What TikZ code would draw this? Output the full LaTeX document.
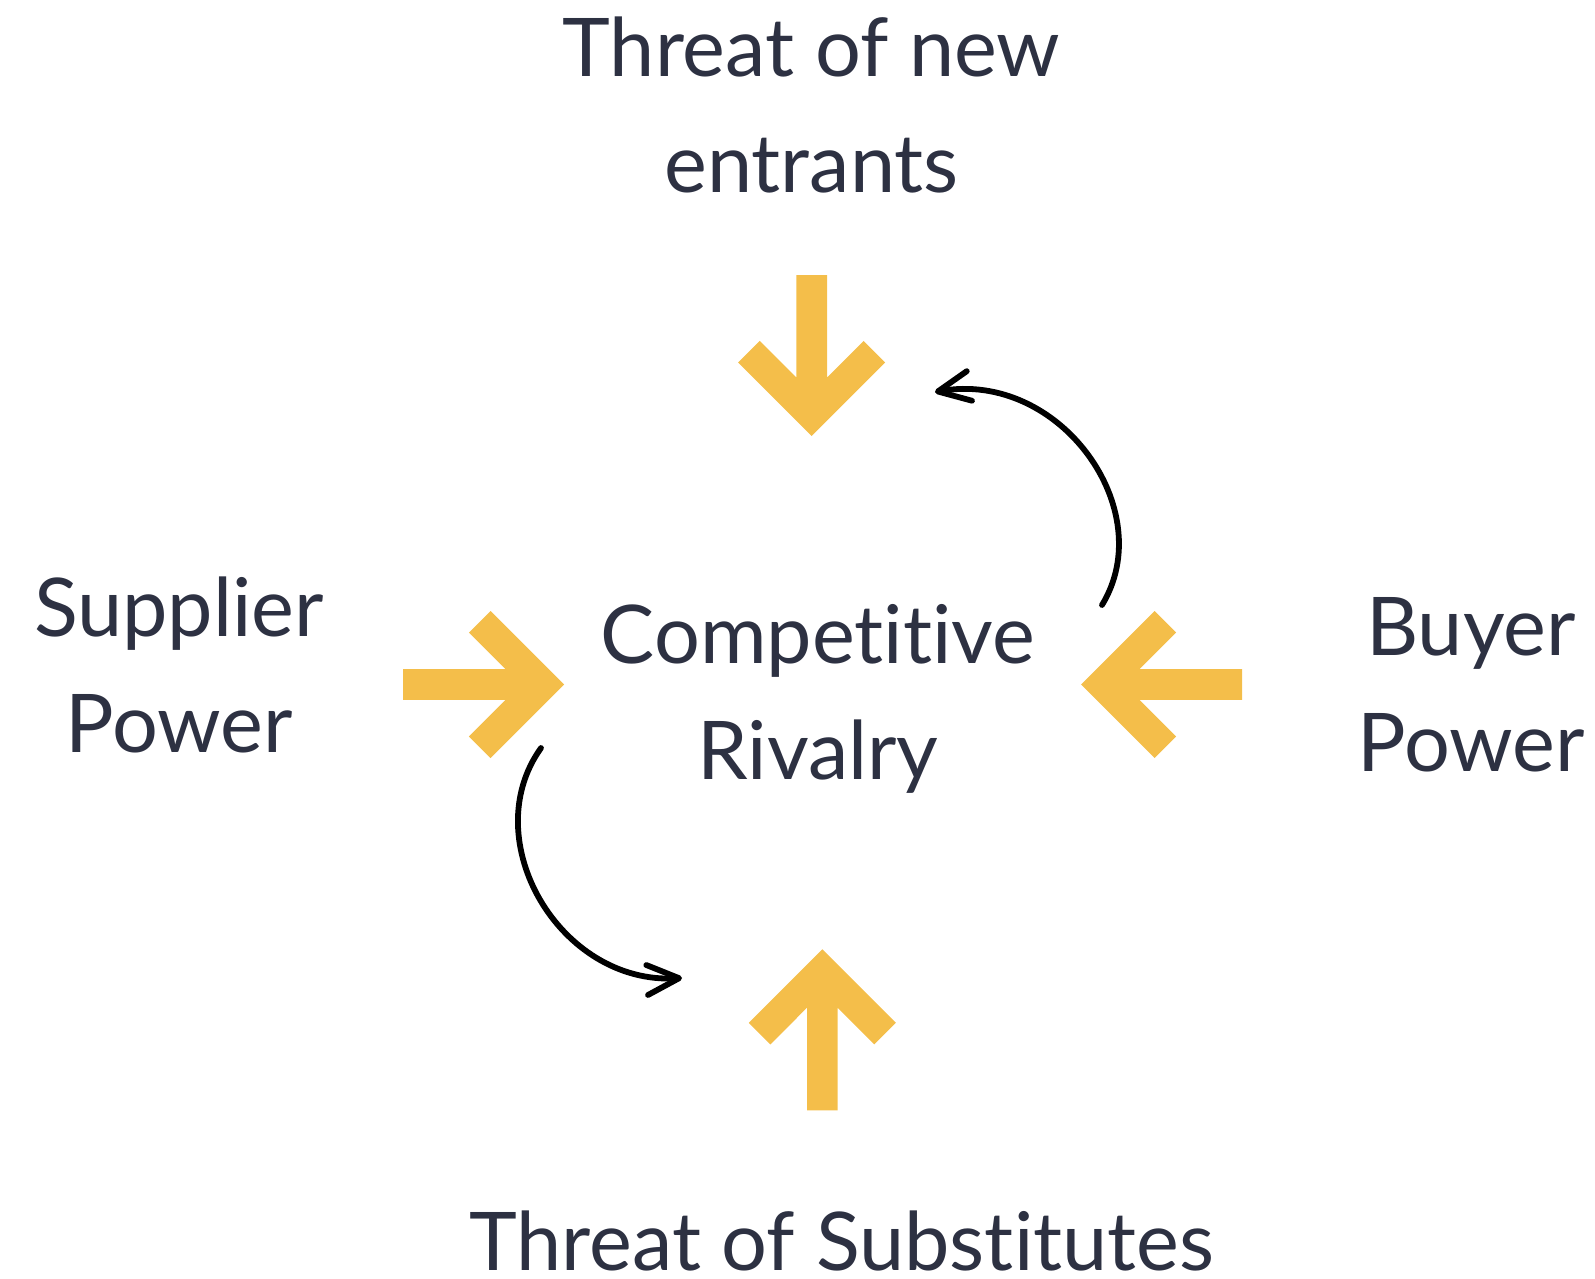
\documentclass[tikz,border=0pt]{standalone}
\usepackage{fontspec}
\setmainfont{Lato}[Ligatures=NoCommon]
\usetikzlibrary{arrows.meta}
\definecolor{forcegold}{HTML}{F4BE4A}
\definecolor{inkblue}{HTML}{2D3142}
\begin{document}
\begin{tikzpicture}[x=0.5pt,y=-0.5pt,
  forcelabel/.style={inner sep=0pt, text=inkblue, align=center, anchor=base,
    font=\fontsize{40.5}{58}\selectfont},
  cycle arrow/.style={draw=black, line width=2.9pt, line cap=round,
    -{Straight Barb[length=16pt,width=15pt,round]}},
  force/.pic={
    \fill[forcegold] (0,0) -- (-73.5,-73.5) -- (-95.1,-51.9) -- (-58.4,-15.3)
      -- (-161,-15.3) -- (-161,15.3) -- (-58.4,15.3) -- (-95.1,51.9)
      -- (-73.5,73.5) -- cycle;
  }]
\useasboundingbox (0,0) rectangle (1595,1279);

% the four forces pressing on the centre
\pic[rotate=-90] at (811.7,436) {force};
\pic at (564,684.5) {force};
\pic[rotate=180] at (1081,684.5) {force};
\pic[rotate=90] at (822.3,949.3) {force};

% labels (anchored on the baseline of their last line)
\node[forcelabel] (entrants) at (811.5,192.7) {Threat of new\\entrants};
\node[forcelabel] (supplier) at (179,752.7) {Supplier\\Power};
\node[forcelabel] (rivalry) at (818,779.3) {Competitive\\Rivalry};
\node[forcelabel] (buyer) at (1471,771.7) {Buyer\\Power};
\node[forcelabel] (substitutes) at (841.7,1270) {Threat of Substitutes};

% circular arrows around the rivalry
\coordinate (c1s) at (1102,605);
\coordinate (c1e) at (935,392);
\coordinate (c2s) at (541,748);
\coordinate (c2e) at (682,978);
\draw[cycle arrow] (c1s) .. controls (1160,510) and (1060,370) .. (c1e);
\draw[cycle arrow] (c2s) .. controls (475,840) and (560,985) .. (c2e);
\end{tikzpicture}
\end{document}
